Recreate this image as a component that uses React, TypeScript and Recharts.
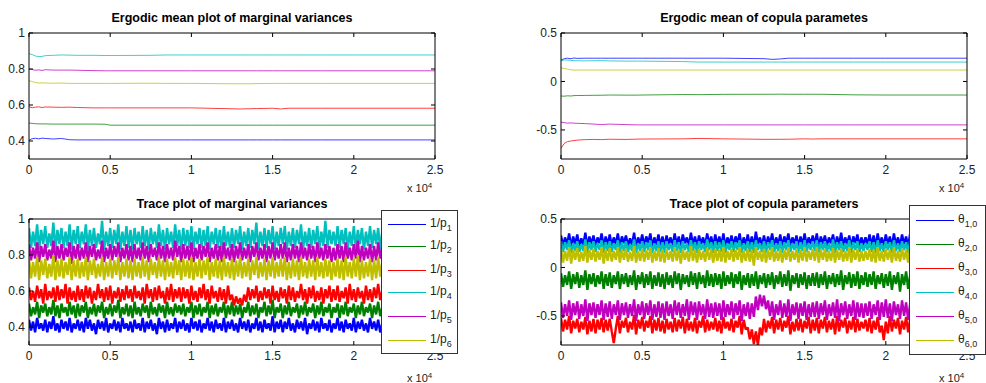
import React from "react";
import { LineChart, Line, XAxis, YAxis } from "recharts";

// MATLAB default line colours, in plotting order
const lineColors = ["#0000ff", "#008000", "#ff0000", "#00bfbf", "#bf00bf", "#bfbf00"];

const iterTicks = [0, 5000, 10000, 15000, 20000, 25000];
const margYTicks = [0.4, 0.6, 0.8, 1];
const copYTicks = [-0.5, 0, 0.5];

const margLabels = ["1", "2", "3", "4", "5", "6"];
const copLabels = ["1,0", "2,0", "3,0", "4,0", "5,0", "6,0"];

// iterations at which the running means were recorded
const meanIters = [0, 200, 400, 600, 800, 1000, 1500, 2000, 2500, 3000, 4000, 4700, 5000, 7500, 8500, 10000, 12500, 13000, 13500, 14000, 15000, 15500, 16000, 18000, 20000, 25000];

const meanP1 = [0.405, 0.413, 0.415, 0.412, 0.416, 0.414, 0.411, 0.414, 0.407, 0.406, 0.406, 0.406, 0.406, 0.406, 0.406, 0.406, 0.406, 0.406, 0.406, 0.406, 0.406, 0.406, 0.406, 0.406, 0.406, 0.406];
const meanP2 = [0.5, 0.498, 0.496, 0.495, 0.495, 0.495, 0.494, 0.494, 0.494, 0.494, 0.494, 0.493, 0.488, 0.488, 0.488, 0.488, 0.488, 0.488, 0.488, 0.488, 0.488, 0.488, 0.488, 0.488, 0.488, 0.488];
const meanP3 = [0.59, 0.585, 0.588, 0.59, 0.586, 0.589, 0.588, 0.587, 0.588, 0.586, 0.584, 0.584, 0.584, 0.584, 0.584, 0.584, 0.579, 0.578, 0.579, 0.58, 0.582, 0.578, 0.582, 0.582, 0.582, 0.582];
const meanP4 = [0.885, 0.88, 0.872, 0.869, 0.87, 0.874, 0.876, 0.878, 0.877, 0.876, 0.876, 0.875, 0.875, 0.876, 0.878, 0.878, 0.878, 0.878, 0.878, 0.878, 0.878, 0.878, 0.878, 0.878, 0.878, 0.878];
const meanP5 = [0.8, 0.797, 0.793, 0.795, 0.792, 0.796, 0.794, 0.794, 0.794, 0.793, 0.791, 0.79, 0.79, 0.79, 0.79, 0.79, 0.79, 0.79, 0.79, 0.79, 0.79, 0.79, 0.79, 0.79, 0.79, 0.79];
const meanP6 = [0.735, 0.73, 0.725, 0.722, 0.723, 0.722, 0.721, 0.722, 0.72, 0.72, 0.72, 0.72, 0.72, 0.721, 0.72, 0.72, 0.718, 0.718, 0.718, 0.719, 0.72, 0.72, 0.72, 0.72, 0.72, 0.72];

const meanTh1 = [0.22, 0.235, 0.24, 0.235, 0.242, 0.238, 0.24, 0.24, 0.24, 0.24, 0.24, 0.24, 0.24, 0.24, 0.24, 0.24, 0.235, 0.228, 0.232, 0.24, 0.24, 0.24, 0.24, 0.24, 0.24, 0.24];
const meanTh2 = [-0.15, -0.152, -0.148, -0.15, -0.146, -0.145, -0.144, -0.143, -0.142, -0.14, -0.141, -0.141, -0.14, -0.135, -0.136, -0.133, -0.132, -0.132, -0.131, -0.132, -0.132, -0.132, -0.132, -0.138, -0.14, -0.14];
const meanTh3 = [-0.69, -0.64, -0.62, -0.615, -0.61, -0.605, -0.6, -0.598, -0.6, -0.596, -0.598, -0.595, -0.594, -0.592, -0.588, -0.592, -0.597, -0.597, -0.597, -0.596, -0.592, -0.594, -0.592, -0.592, -0.592, -0.592];
const meanTh4 = [0.21, 0.222, 0.22, 0.218, 0.215, 0.214, 0.212, 0.214, 0.215, 0.212, 0.21, 0.21, 0.21, 0.205, 0.2, 0.2, 0.2, 0.2, 0.2, 0.2, 0.2, 0.2, 0.2, 0.2, 0.2, 0.2];
const meanTh5 = [-0.42, -0.425, -0.43, -0.428, -0.43, -0.432, -0.435, -0.44, -0.445, -0.44, -0.445, -0.448, -0.448, -0.448, -0.448, -0.448, -0.448, -0.448, -0.448, -0.448, -0.448, -0.448, -0.448, -0.448, -0.448, -0.448];
const meanTh6 = [0.14, 0.135, 0.128, 0.12, 0.118, 0.118, 0.118, 0.118, 0.118, 0.118, 0.118, 0.118, 0.118, 0.118, 0.118, 0.118, 0.118, 0.118, 0.118, 0.118, 0.118, 0.118, 0.118, 0.118, 0.118, 0.118];

// thinned chain draws, one every traceStep iterations, values in hundredths
const traceStep = 125;

const traceP1 = `
44 38 43 37 45 39 42 38 44 37 43 39 46 38 42 37 44 39 43 38 45 37 42 39 44
38 43 37 45 39 44 38 42 36 44 39 43 38 45 37 42 39 44 38 43 37 45 39 42 38
43 37 44 39 42 38 45 37 43 39 44 38 42 36 45 39 43 37 44 38 42 39 45 37 43
39 44 38 42 37 45 39 43 38 44 37 42 39 45 38 43 37 44 39 42 38 45 37 43 39
44 38 42 37 45 39 43 38 44 37 42 39 45 38 43 37 44 39 42 38 46 37 43 39 44
37 43 39 45 38 42 37 44 39 43 38 45 36 42 39 44 38 43 37 45 39 42 38 44 37
42 39 45 38 43 37 44 39 42 38 45 37 43 39 44 38 42 37 45 39 43 38 44 37 42
38 44 37 43 39 45 38 42 37 44 39 43 38 45 37 42 39 44 38 43 37 45 39 42 38`;
const traceP2 = `
53 46 51 47 54 45 52 48 53 46 51 47 55 46 52 45 53 48 51 46 54 47 52 45 53
46 52 48 54 45 51 47 53 46 52 48 54 45 51 47 53 46 52 48 55 45 51 47 53 46
52 45 54 47 51 46 53 48 52 45 54 47 51 46 53 48 52 45 54 47 51 46 53 48 52
47 53 46 51 48 54 45 52 47 53 46 51 48 54 45 52 47 53 46 51 48 54 45 52 47
54 46 52 47 53 45 51 48 54 46 52 47 53 45 51 48 54 46 52 47 55 45 51 48 53
45 52 47 54 46 51 48 53 45 52 47 54 46 51 48 53 45 52 47 54 46 51 48 53 45
51 48 53 45 52 47 54 46 51 48 53 45 52 47 54 46 51 48 53 45 52 47 54 46 51
48 54 46 52 45 53 47 51 48 54 46 52 45 53 47 51 48 54 46 52 45 53 47 51 48`;
const traceP3 = `
62 55 60 54 63 56 61 53 64 55 60 56 62 54 63 55 61 56 64 53 62 55 60 54 63
55 61 54 63 56 62 53 60 55 64 56 61 54 62 55 63 53 60 56 62 54 61 55 63 56
61 54 63 56 60 55 62 53 64 56 61 54 62 55 63 56 60 53 62 55 64 54 61 56 62
54 62 56 61 53 63 55 60 54 62 56 64 55 61 53 63 56 60 54 62 55 61 53 63 55
58 52 57 53 56 52 58 54 62 55 61 56 63 54 60 55 62 56 61 53 63 55 60 54 62
56 61 53 63 55 62 54 60 56 64 55 61 53 62 56 63 54 60 55 62 53 61 56 63 54
61 55 63 54 60 56 62 53 64 55 61 54 62 56 60 53 63 55 61 54 62 56 64 55 60
53 62 55 61 54 63 56 60 53 62 55 64 54 61 56 62 53 60 55 63 54 61 56 62 55`;
const traceP4 = `
95 84 93 85 97 83 94 86 96 84 92 85 98 83 94 86 95 84 93 85 97 83 94 86 96
84 93 86 97 83 94 85 95 84 92 86 99 83 93 85 95 84 94 86 97 83 93 85 96 84
94 83 95 86 93 84 96 85 94 83 95 86 93 84 97 85 94 83 95 86 93 84 97 85 94
83 95 85 94 84 96 83 93 86 95 84 94 85 96 83 93 86 95 84 94 83 96 85 93 84
95 84 94 86 96 83 93 85 95 84 94 86 98 83 93 85 95 84 94 86 96 83 93 85 95
86 96 83 93 85 95 84 94 86 97 83 93 85 95 84 94 86 96 83 93 85 99 84 94 86
93 85 96 84 94 86 95 83 93 85 96 84 94 86 95 83 93 85 96 84 94 86 95 83 93
84 94 86 95 83 93 85 96 84 94 86 95 83 93 85 96 84 94 86 95 83 93 85 96 84`;
const traceP5 = `
86 77 84 78 87 76 85 79 86 77 83 78 88 76 85 78 86 77 84 79 87 75 85 78 86
77 84 78 87 76 85 79 86 77 83 78 88 76 84 78 86 77 85 79 87 76 84 78 86 77
85 76 86 78 84 77 87 78 85 76 86 79 84 77 87 78 85 76 86 78 84 77 88 79 85
76 86 78 85 77 87 76 84 78 86 77 85 79 87 76 84 78 86 77 85 76 87 78 84 77
86 76 85 78 87 77 84 78 86 76 85 79 87 77 84 78 86 76 85 78 87 77 84 78 86
78 87 76 84 77 86 78 85 76 87 78 84 77 86 78 85 76 87 78 84 77 86 78 85 76
84 77 86 78 85 76 87 78 84 77 86 78 88 76 85 77 84 78 86 76 85 77 87 78 84
77 85 78 86 76 84 78 87 77 85 76 86 78 84 77 87 76 85 78 86 77 84 78 86 77`;
const traceP6 = `
78 67 76 68 79 66 77 69 78 67 75 68 80 66 77 68 78 67 76 69 79 66 77 68 78
67 76 68 79 66 77 69 78 67 75 68 79 66 76 68 78 67 77 69 79 66 76 68 78 67
77 66 78 68 76 67 79 68 77 66 78 69 76 67 79 68 77 66 78 68 76 67 79 69 77
66 78 68 77 67 79 66 76 68 78 67 77 69 79 66 76 68 78 67 77 66 79 68 76 67
78 66 77 68 79 67 76 68 78 66 77 69 79 67 76 68 78 66 77 68 79 67 76 68 78
68 79 66 76 67 78 68 77 66 79 68 76 67 78 68 77 66 79 68 76 67 78 68 77 66
76 68 78 67 77 66 79 68 76 67 78 68 80 66 77 67 76 68 78 66 77 67 79 68 76
67 77 68 78 66 76 68 79 67 77 66 78 68 76 67 79 66 77 68 78 67 76 68 78 67`;

const traceTh1 = `
33 22 31 23 35 21 32 24 34 22 30 23 36 21 32 24 33 22 31 25 35 21 32 23 34
22 31 24 35 21 32 25 33 22 30 23 36 21 31 24 34 22 32 25 35 21 31 23 34 22
32 21 33 24 31 22 35 23 32 21 34 25 31 22 36 23 32 21 33 24 31 22 35 24 32
21 34 23 32 22 35 21 31 24 33 22 32 25 35 21 31 23 34 22 32 21 37 24 31 22
33 21 32 24 35 22 31 23 34 21 32 25 35 22 31 24 33 21 32 23 35 22 31 24 33
23 35 21 32 24 33 22 31 25 34 21 32 23 36 22 31 24 33 21 32 25 34 22 31 23
31 24 34 22 33 21 35 23 31 22 34 24 32 21 35 23 31 22 34 24 32 21 35 23 31
22 33 24 31 21 35 23 32 22 34 24 31 21 33 23 35 22 32 24 31 21 34 23 32 22`;
const traceTh2 = `
-06 -20 -08 -18 -04 -22 -07 -17 -05 -21 -08 -18 -03 -23 -07 -17 -06 -20 -08 -17 -04 -22 -07 -19 -05
-21 -08 -17 -04 -22 -07 -17 -06 -20 -08 -18 -03 -23 -08 -17 -05 -21 -07 -18 -04 -22 -08 -19 -05 -20
-07 -22 -05 -18 -08 -21 -04 -17 -06 -23 -07 -17 -08 -20 -04 -18 -06 -22 -05 -17 -08 -21 -03 -19 -07
-20 -06 -18 -07 -22 -04 -19 -08 -17 -05 -21 -07 -17 -04 -23 -08 -18 -06 -21 -07 -19 -04 -22 -08 -17
-06 -21 -07 -18 -05 -22 -08 -17 -04 -20 -07 -19 -03 -24 -08 -17 -06 -21 -07 -18 -05 -22 -08 -19 -06
-19 -05 -21 -07 -18 -04 -22 -08 -17 -06 -20 -07 -18 -03 -23 -08 -17 -05 -21 -07 -19 -04 -22 -08 -18
-05 -20 -07 -18 -04 -22 -08 -17 -06 -21 -07 -19 -04 -23 -08 -17 -05 -25 -07 -18 -04 -22 -08 -19 -06
-21 -07 -18 -04 -22 -08 -17 -05 -20 -07 -19 -03 -24 -08 -17 -06 -21 -07 -18 -05 -22 -08 -25 -06 -19`;
const traceTh3 = `
-52 -66 -54 -64 -50 -68 -55 -63 -53 -67 -56 -64 -51 -69 -55 -66 -53 -68 -54 -64 -52 -67 -54 -65 -53
-66 -78 -63 -50 -68 -55 -62 -52 -67 -56 -64 -49 -69 -54 -63 -51 -66 -55 -62 -50 -68 -54 -65 -52 -66
-55 -68 -53 -64 -56 -67 -52 -66 -54 -63 -51 -68 -53 -65 -56 -66 -52 -68 -55 -62 -50 -67 -54 -65 -56
-64 -52 -66 -55 -68 -51 -63 -56 -65 -53 -67 -55 -62 -50 -69 -54 -64 -62 -74 -64 -79 -66 -80 -62 -70
-53 -67 -55 -63 -51 -68 -54 -64 -52 -66 -55 -62 -50 -69 -56 -66 -53 -65 -53 -67 -55 -63 -51 -68 -54
-65 -52 -68 -54 -63 -51 -67 -55 -64 -53 -69 -50 -66 -54 -62 -52 -68 -55 -64 -51 -67 -53 -65 -56 -63
-54 -66 -52 -68 -55 -64 -51 -67 -60 -75 -56 -68 -50 -66 -54 -63 -52 -69 -55 -64 -51 -67 -53 -65 -55
-67 -53 -64 -51 -68 -55 -63 -52 -66 -54 -69 -50 -65 -53 -67 -55 -62 -51 -68 -54 -64 -52 -72 -55 -66`;
const traceTh4 = `
27 16 26 18 28 15 25 17 27 16 24 17 29 15 26 18 27 16 25 18 28 15 26 17 27
16 25 18 28 15 26 17 27 16 24 17 29 15 25 17 27 16 26 18 28 15 25 17 27 16
26 15 27 18 25 16 28 17 26 15 27 18 25 16 28 17 26 15 27 18 25 16 29 18 26
15 27 17 26 16 28 15 25 18 27 16 26 18 28 15 25 17 27 16 26 15 28 18 25 16
27 15 26 18 28 16 25 17 27 15 26 18 28 16 25 18 27 15 26 17 28 16 25 18 27
17 28 15 26 18 27 16 25 17 29 15 26 18 27 16 25 17 28 15 26 18 27 16 25 17
25 18 27 16 26 15 28 17 25 16 27 18 26 15 28 17 25 16 27 18 26 15 28 17 25
16 26 18 27 15 25 17 28 16 26 18 27 15 25 17 29 16 26 18 27 15 25 17 28 16`;
const traceTh5 = `
-36 -52 -38 -50 -34 -54 -37 -49 -35 -53 -38 -50 -33 -55 -37 -49 -36 -52 -38 -49 -34 -54 -37 -51 -35
-53 -38 -49 -34 -54 -37 -49 -36 -52 -38 -50 -33 -55 -38 -49 -35 -53 -37 -49 -34 -54 -38 -51 -35 -52
-37 -54 -35 -50 -38 -53 -34 -49 -36 -52 -38 -50 -33 -54 -35 -49 -36 -54 -35 -49 -38 -53 -33 -51 -37
-52 -36 -50 -37 -54 -34 -51 -38 -49 -35 -53 -37 -49 -34 -55 -38 -50 -36 -53 -37 -51 -30 -44 -28 -40
-29 -43 -34 -50 -35 -54 -38 -49 -34 -52 -37 -51 -33 -55 -38 -49 -36 -53 -37 -50 -35 -54 -38 -51 -36
-51 -35 -53 -37 -49 -34 -54 -38 -50 -36 -52 -33 -55 -37 -49 -35 -53 -38 -50 -34 -54 -36 -51 -37 -52
-37 -50 -35 -53 -38 -49 -34 -54 -36 -51 -33 -52 -37 -55 -35 -49 -38 -53 -34 -50 -36 -54 -37 -51 -33
-52 -36 -54 -38 -49 -35 -53 -37 -50 -34 -55 -36 -51 -38 -49 -35 -53 -37 -52 -34 -50 -36 -54 -38 -51`;
const traceTh6 = `
19 05 17 07 21 04 18 08 20 06 16 07 22 05 18 08 19 06 17 08 21 04 18 07 20
06 17 08 21 05 18 08 19 06 16 07 22 05 17 07 19 06 18 08 21 05 17 07 20 06
18 05 19 08 17 06 21 07 18 04 19 08 17 06 22 07 18 05 19 08 17 06 20 08 18
05 19 07 18 06 21 05 17 08 19 06 18 08 21 05 17 07 19 06 18 02 21 08 17 06
19 05 18 08 21 06 17 07 19 05 18 08 21 06 17 08 19 05 18 07 21 06 17 08 19
07 21 05 18 08 19 06 17 07 20 05 18 08 19 06 17 07 21 05 18 08 19 06 17 07
17 08 19 06 18 05 21 07 17 06 19 08 18 05 21 07 17 06 19 08 18 05 21 07 17
06 18 08 19 05 17 07 21 06 18 08 19 05 17 07 20 06 18 08 19 01 17 07 21 06`;

const parseTrace = (s: string) => s.trim().split(/\s+/).map((v) => Number(v) / 100);

const toRows = (iters: number[], cols: number[][]) =>
  iters.map((iter, i) => {
    const row: Record<string, number> = { iter };
    cols.forEach((c, k) => {
      row["s" + k] = c[i];
    });
    return row;
  });

const traceRows = (cols: number[][]) => {
  const n = Math.max(...cols.map((c) => c.length));
  const iters = Array.from({ length: n }, (_, i) => i * traceStep);
  return toRows(iters, cols);
};

const meanMargRows = toRows(meanIters, [meanP1, meanP2, meanP3, meanP4, meanP5, meanP6]);
const meanCopRows = toRows(meanIters, [meanTh1, meanTh2, meanTh3, meanTh4, meanTh5, meanTh6]);
const traceMargRows = traceRows([traceP1, traceP2, traceP3, traceP4, traceP5, traceP6].map(parseTrace));
const traceCopRows = traceRows([traceTh1, traceTh2, traceTh3, traceTh4, traceTh5, traceTh6].map(parseTrace));

const FONT = "'Liberation Sans', Arial, Helvetica, sans-serif";
const PANEL_W = 493;
const PANEL_H = 197;
const PLOT_W = 406;
const PLOT_TOP = 33;
const PLOT_BOTTOM = 159;

const fmtIter = (v: number) => String(v / 10000);
const fmtY = (v: number) => String(v);
const blank = () => "";

const tickStyle = { fontSize: 12, fill: "#222", fontFamily: FONT };
const axisStroke = { stroke: "#000" };

type PanelProps = {
  left: number;
  top: number;
  plotLeft: number;
  title: string;
  rows: Record<string, number>[];
  domain: [number, number];
  yTicks: number[];
  thin?: boolean;
  expTop: number;
};

function Panel({ left, top, plotLeft, title, rows, domain, yTicks, thin, expTop }: PanelProps) {
  const plotRight = plotLeft + PLOT_W;
  // axes take 1px each, so the margins are trimmed by that much
  const margin = {
    top: PLOT_TOP - 1,
    left: plotLeft - 1,
    right: PANEL_W - plotRight - 1,
    bottom: PANEL_H - PLOT_BOTTOM - 1,
  };
  return (
    <div style={{ position: "absolute", left, top, width: PANEL_W, height: PANEL_H }}>
      <div
        style={{
          position: "absolute",
          left: plotLeft,
          top: 11,
          width: PLOT_W,
          textAlign: "center",
          fontFamily: FONT,
          fontWeight: "bold",
          fontSize: 12.5,
          lineHeight: "15px",
          color: "#000",
        }}
      >
        {title}
      </div>
      <LineChart width={PANEL_W} height={PANEL_H} data={rows} margin={margin}>
        <XAxis
          xAxisId="b"
          dataKey="iter"
          type="number"
          domain={[0, 25000]}
          ticks={iterTicks}
          interval={0}
          tickFormatter={fmtIter}
          height={1}
          tickSize={-4}
          tickMargin={10}
          axisLine={axisStroke}
          tickLine={axisStroke}
          tick={tickStyle}
          allowDataOverflow
        />
        <XAxis
          xAxisId="t"
          orientation="top"
          dataKey="iter"
          type="number"
          domain={[0, 25000]}
          ticks={iterTicks}
          interval={0}
          tickFormatter={blank}
          height={1}
          tickSize={-4}
          axisLine={axisStroke}
          tickLine={axisStroke}
          allowDataOverflow
        />
        <YAxis
          yAxisId="l"
          type="number"
          domain={domain}
          ticks={yTicks}
          interval={0}
          tickFormatter={fmtY}
          width={1}
          tickSize={-4}
          tickMargin={8}
          axisLine={axisStroke}
          tickLine={axisStroke}
          tick={tickStyle}
          allowDataOverflow
        />
        <YAxis
          yAxisId="r"
          orientation="right"
          type="number"
          domain={domain}
          ticks={yTicks}
          interval={0}
          tickFormatter={blank}
          width={1}
          tickSize={-4}
          axisLine={axisStroke}
          tickLine={axisStroke}
          allowDataOverflow
        />
        {lineColors.map((c, k) => (
          <Line
            key={k}
            xAxisId="b"
            yAxisId="l"
            dataKey={"s" + k}
            type="linear"
            stroke={c}
            strokeWidth={thin ? 1 : 2.4}
            strokeOpacity={thin ? 0.75 : 1}
            strokeLinejoin="bevel"
            dot={false}
            activeDot={false}
            isAnimationActive={false}
          />
        ))}
      </LineChart>
      <div
        style={{
          position: "absolute",
          left: plotRight - 28,
          top: expTop,
          fontFamily: FONT,
          fontSize: 11,
          lineHeight: "12px",
          color: "#222",
          whiteSpace: "nowrap",
        }}
      >
        x 10<sup style={{ fontSize: 8, verticalAlign: "4px" }}>4</sup>
      </div>
    </div>
  );
}

type LegendProps = {
  left: number;
  top: number;
  width: number;
  height: number;
  firstRow: number;
  rowStep: number;
  symbol: string;
  subs: string[];
};

function SeriesLegend({ left, top, width, height, firstRow, rowStep, symbol, subs }: LegendProps) {
  // sample lines snapped to even page rows
  const rowY = (k: number) => Math.round((top + firstRow + k * rowStep) / 2) * 2 - top;
  return (
    <div
      style={{
        position: "absolute",
        left,
        top,
        width,
        height,
        boxSizing: "border-box",
        border: "1px solid #333",
        background: "#fff",
        fontFamily: FONT,
      }}
    >
      <svg width={width} height={height} style={{ position: "absolute", left: -1, top: -1 }}>
        {subs.map((s, k) => (
          <line key={k} x1={7} x2={45} y1={rowY(k) + 0.5} y2={rowY(k) + 0.5} stroke={lineColors[k]} strokeWidth={1} />
        ))}
      </svg>
      {subs.map((s, k) => (
        <div
          key={k}
          style={{
            position: "absolute",
            left: 48,
            top: rowY(k) - 9,
            fontSize: 12,
            lineHeight: "14px",
            color: "#222",
            whiteSpace: "nowrap",
          }}
        >
          {symbol}
          <sub style={{ fontSize: 9, verticalAlign: "-4px" }}>{s}</sub>
        </div>
      ))}
    </div>
  );
}

export default function App() {
  return (
    <div
      style={{
        position: "absolute",
        left: 0,
        top: 0,
        width: 986,
        height: 383,
        background: "#fff",
        overflow: "hidden",
      }}
    >
      <Panel
        left={0}
        top={0}
        plotLeft={29}
        title="Ergodic mean plot of marginal variances"
        rows={meanMargRows}
        domain={[0.3, 1]}
        yTicks={margYTicks}
        thin
        expTop={180}
      />
      <Panel
        left={493}
        top={0}
        plotLeft={68}
        title="Ergodic mean of copula parametes"
        rows={meanCopRows}
        domain={[-0.8, 0.5]}
        yTicks={copYTicks}
        thin
        expTop={180}
      />
      <Panel
        left={0}
        top={186}
        plotLeft={29}
        title="Trace plot of marginal variances"
        rows={traceMargRows}
        domain={[0.3, 1]}
        yTicks={margYTicks}
        expTop={184}
      />
      <Panel
        left={493}
        top={186}
        plotLeft={68}
        title="Trace plot of copula parameters"
        rows={traceCopRows}
        domain={[-0.8, 0.5]}
        yTicks={copYTicks}
        expTop={184}
      />
      <SeriesLegend left={381} top={210} width={77} height={144} firstRow={13} rowStep={23.2} symbol="1/p" subs={margLabels} />
      <SeriesLegend left={909} top={205} width={77} height={150} firstRow={15} rowStep={24} symbol="θ" subs={copLabels} />
    </div>
  );
}
